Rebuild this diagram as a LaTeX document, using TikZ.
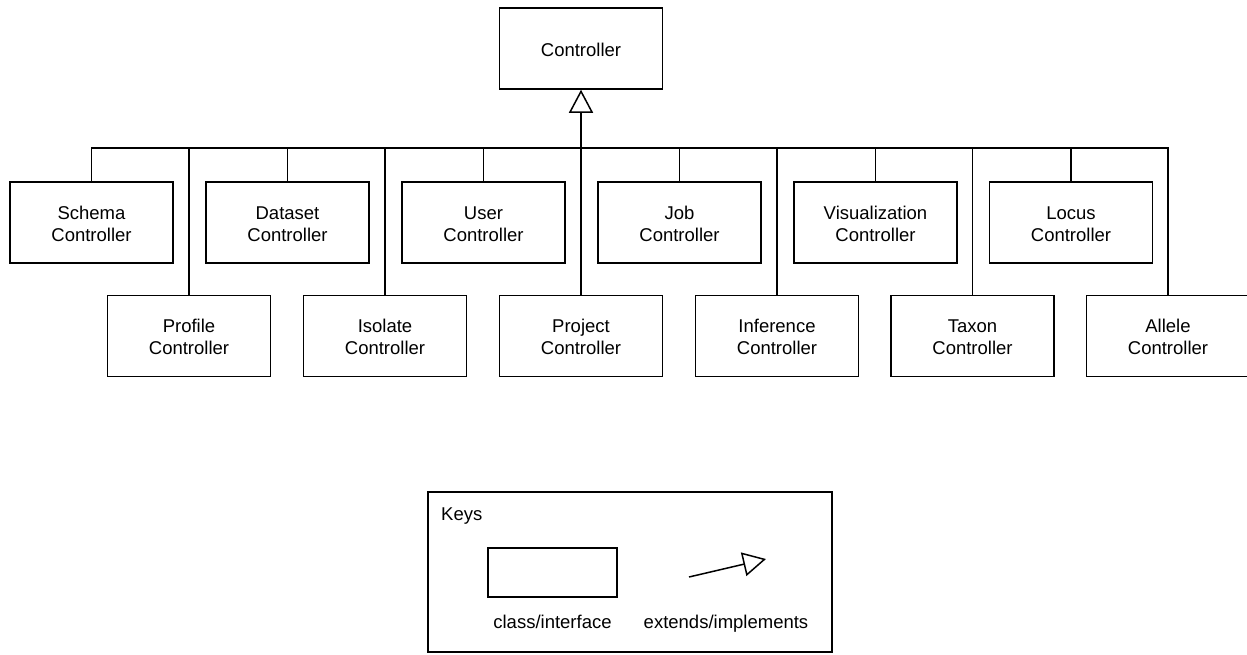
\documentclass[tikz,border=0pt]{standalone}
\usepackage{fontspec}
\setmainfont{Liberation Sans}
\usetikzlibrary{arrows.meta}
\newcommand\mystrut{\rule[-3.5pt]{0pt}{22pt}}
\newcommand\twolines[2]{\mystrut\smash{#1}\\\mystrut\smash{#2}}
\begin{document}
\begin{tikzpicture}[x=1pt,y=-1pt,
  cls/.style={draw=black,line width=1.5pt,minimum width=163pt,minimum height=81pt,
    inner sep=0pt,align=center,font=\fontsize{18.5}{22}\selectfont},
  link/.style={line width=1.5pt},
  gen/.style={line width=1.5pt,-{Triangle[open,length=23pt,width=24pt,line width=1.5pt]}},
  lbl/.style={inner sep=0pt,font=\fontsize{18.5}{22}\selectfont}]
\useasboundingbox (0,0) rectangle (1247,654);
% root
\node[cls] (ctrl) at (581,48.5) {\mystrut Controller};
\coordinate (bus) at (581,148);
% top row
\node[cls] (schema) at (91.5,222.5) {\twolines{Schema}{Controller}};
\node[cls] (dataset) at (287.5,222.5) {\twolines{Dataset}{Controller}};
\node[cls] (user) at (483.5,222.5) {\twolines{User}{Controller}};
\node[cls] (job) at (679.5,222.5) {\twolines{Job}{Controller}};
\node[cls] (vis) at (875.5,222.5) {\twolines{Visualization}{Controller}};
\node[cls] (locus) at (1071,222.5) {\twolines{Locus}{Controller}};
% bottom row
\node[cls] (profile) at (189,336) {\twolines{Profile}{Controller}};
\node[cls] (isolate) at (385,336) {\twolines{Isolate}{Controller}};
\node[cls] (project) at (581,336) {\twolines{Project}{Controller}};
\node[cls] (inference) at (777,336) {\twolines{Inference}{Controller}};
\node[cls] (taxon) at (972.5,336) {\twolines{Taxon}{Controller}};
\node[cls] (allele) at (1168,336) {\twolines{Allele}{Controller}};
% connectors
\foreach \c in {schema,dataset,user,job,vis,locus,profile,isolate,inference,taxon,allele}
  \draw[link] (\c.north) |- (bus);
\draw[link] (project.north) -- (bus);
\draw[line width=2pt] (schema.north |- bus) -- (allele.north |- bus);
\draw[gen] (bus) -- (ctrl.south);
% legend
\node[draw=black,line width=1.5pt,minimum width=404pt,minimum height=160pt,inner sep=0pt] (legend) at (630,572) {};
\node[lbl,anchor=base west] (keys) at (441,520) {Keys};
\node[draw=black,line width=1.5pt,minimum width=129pt,minimum height=49pt,inner sep=0pt] (keycls) at (552.5,572.5) {};
\node[lbl,anchor=base] (keyclstxt) at (552.5,628) {class/interface};
\coordinate (ka) at (689,577);
\coordinate (kb) at (766,559);
\draw[gen] (ka) -- (kb);
\node[lbl,anchor=base] (keygentxt) at (726,628) {extends/implements};
\end{tikzpicture}
\end{document}
